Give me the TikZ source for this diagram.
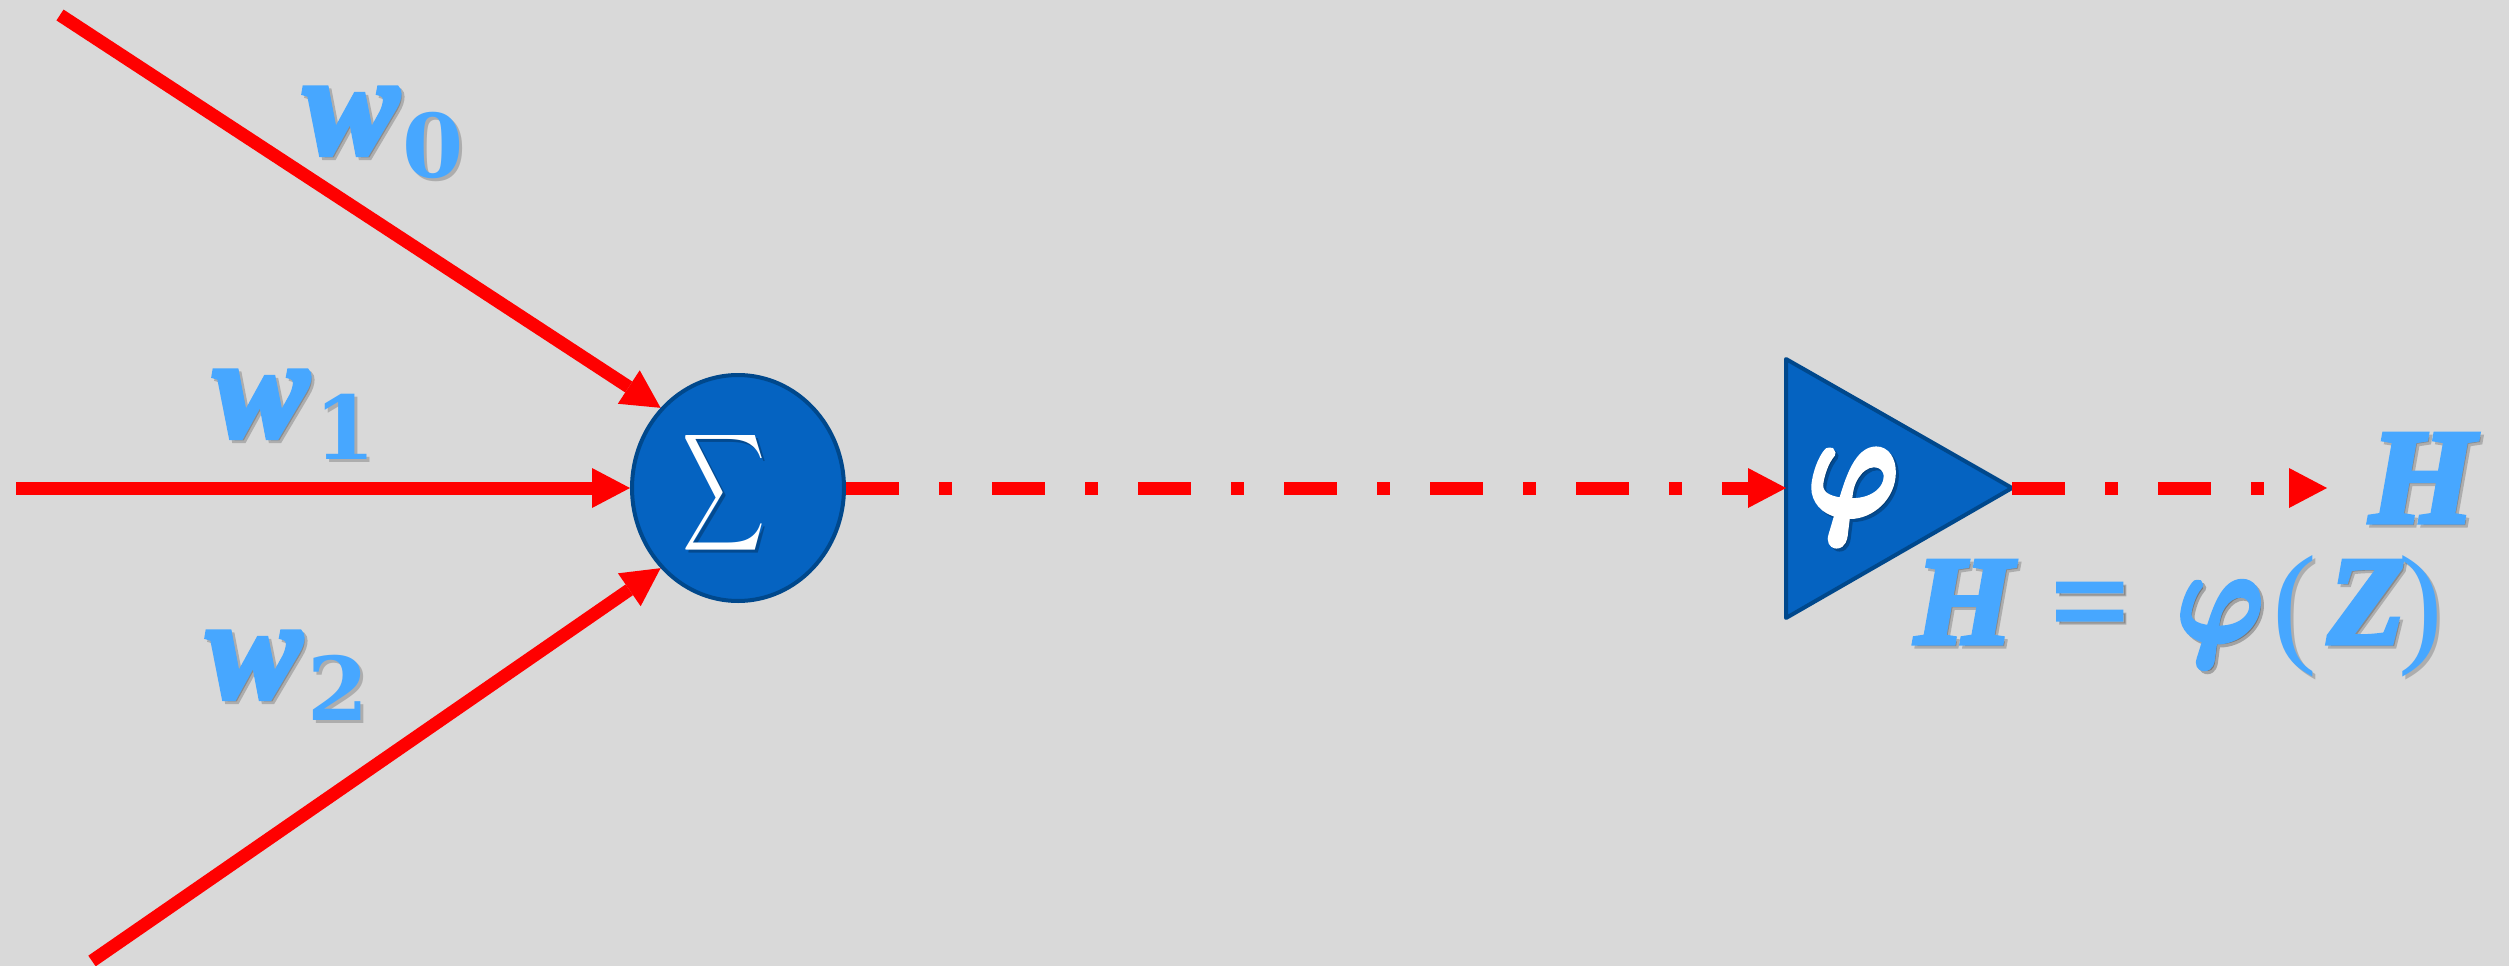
\documentclass[tikz,border=0pt]{standalone}
\usepackage{graphicx}
\usepackage[no-math]{fontspec}
\setmainfont{Liberation Serif}
\newfontface\lsbi{Liberation Serif Bold Italic}[FakeBold=4]
\newfontface\dvb{DejaVu Serif Bold}
\newfontface\lsr{Liberation Serif}
\newfontface\lsb{Liberation Serif Bold}[FakeBold=1.5]
\newfontface\lmm{Latin Modern Math}[FakeBold=5]
\usetikzlibrary{arrows.meta,shapes.geometric,calc}
\definecolor{bgc}{RGB}{217,217,217}
\definecolor{nodeblue}{RGB}{5,99,193}
\definecolor{nodeedge}{RGB}{0,72,140}
\definecolor{lblue}{RGB}{71,167,255}
\definecolor{wred}{RGB}{255,0,0}
\tikzset{
  wire/.style={draw=wred, line width=13pt, -{Triangle[length=38pt,width=40pt,line width=0pt]}},
  dashwire/.style={wire, dash pattern=on 53pt off 40pt on 13pt off 40pt},
  lbl/.style={text=lblue, inner sep=0pt, anchor=base west},
  shd/.style={text=black, opacity=0.2, inner sep=0pt, anchor=base west},
  glyph/.style={text=white, inner sep=0pt, anchor=center},
  glyphshd/.style={text=black, opacity=0.25, inner sep=0pt, anchor=center},
  sumnode/.style={ellipse, fill=nodeblue, draw=nodeedge, line width=4pt,
    minimum width=212pt, minimum height=226pt, inner sep=0pt},
  actshape/.style={fill=nodeblue, draw=nodeedge, line width=4pt, line join=round}
}
\newcommand\wfont{\lsbi\fontsize{141pt}{141pt}\selectfont}
\newcommand\dfont{\dvb\fontsize{88pt}{88pt}\selectfont}
\newcommand\hfont{\lsbi\fontsize{125pt}{125pt}\selectfont}
\newcommand\htopfont{\lsbi\fontsize{134pt}{134pt}\selectfont}
\newcommand\eqfont{\lsb\fontsize{140pt}{140pt}\selectfont}
\newcommand\pfont{\lsr\fontsize{134pt}{134pt}\selectfont}
\newcommand\phiglyph{{\lmm\fontsize{100pt}{100pt}\selectfont 𝝋}}
\newcommand\shtext[4]{%
  \node[shd, xshift=3pt, yshift=-3pt] at (#2) {#3#4};
  \node[lbl] (#1) at (#2) {#3#4};}
\newcommand\shglyph[4]{%
  \node[glyphshd, xshift=3pt, yshift=-3pt] at (#2) {#4};
  \node[#3] (#1) at (#2) {#4};}
\begin{document}
\begin{tikzpicture}[x=1pt, y=-1pt]
  \useasboundingbox (0,0) rectangle (2509,966);
  \fill[bgc] (0,0) rectangle (2509,966);

  % summation node
  \node[sumnode] (sum) at (738,488) {};
  \shglyph{sigma}{724.5,492.5}{glyph}{\resizebox*{83pt}{131pt}{$\displaystyle\sum$}}

  % activation triangle
  \coordinate (tritop) at (1786,359);
  \coordinate (tribot) at (1786,618);
  \coordinate (apex) at (2012,488);
  \coordinate (triin) at (1786,488);
  \path[actshape] (tritop) -- (apex) -- (tribot) -- cycle;
  \shglyph{phi}{1853,497.5}{glyph}{\resizebox*{90pt}{95pt}{\phiglyph}}

  % inputs
  \coordinate (in0) at (60,15);
  \coordinate (in1) at (16,488);
  \coordinate (in2) at (92,961);
  \draw[wire] (in0) -- (sum.134);
  \draw[wire] (in1) -- (sum.west);
  \draw[wire] (in2) -- (sum.226);

  % dash-dot connectors
  \draw[dashwire] (sum.east) -- (triin);
  \coordinate (hout) at (2327,488);
  \draw[dashwire] (apex) -- (hout);

  % weight labels
  \shtext{w0}{304,153}{\wfont}{w}
  \shtext{s0}{402,177}{\dfont}{0}
  \shtext{w1}{214,436}{\wfont}{w}
  \shtext{s1}{314,459}{\dfont}{1}
  \shtext{w2}{207,697}{\wfont}{w}
  \shtext{s2}{307,720}{\dfont}{2}

  % output label
  \shtext{hlab}{2370,522}{\htopfont}{H}

  % formula H = phi(Z)
  \shtext{fH}{1915,643}{\hfont}{H}
  \shtext{feq}{2050,648}{\eqfont}{=}
  \node[glyphshd, xshift=3pt, yshift=-3pt] at (2220,625) {\resizebox*{86pt}{86pt}{\phiglyph}};
  \node[glyph, text=lblue] (fphi) at (2220,625) {\resizebox*{86pt}{86pt}{\phiglyph}};
  \shtext{flp}{2272,648}{\pfont}{(}
  \shtext{fZ}{2328,643}{\hfont}{Z}
  \shtext{frp}{2398,648}{\pfont}{)}
\end{tikzpicture}
\end{document}
